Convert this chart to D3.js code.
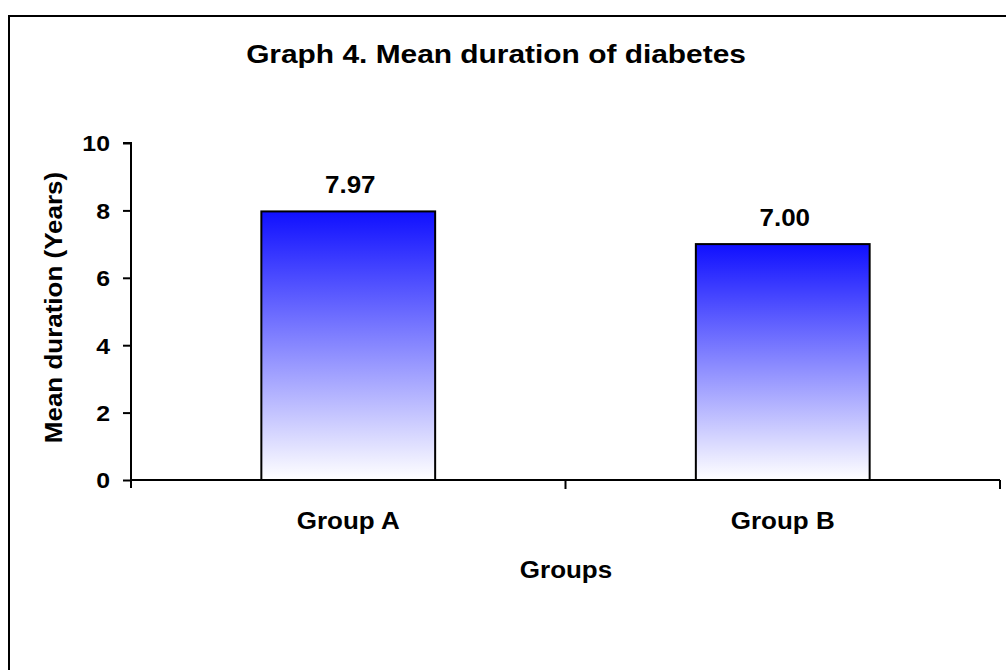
<!DOCTYPE html>
<html>
<head>
<meta charset="utf-8">
<script src="https://cdn.jsdelivr.net/npm/d3@7"></script>
<style>
  body { margin: 0; background: #fff; }
  text { font-family: "Liberation Sans", Arial, sans-serif; font-weight: bold; fill: #000; }
</style>
</head>
<body>
<div id="chart"></div>
<script>
// chart data
const categories = ["Group A", "Group B"];
const meanYears = [7.97, 7.00];
const valueLabels = ["7.97", "7.00"];
const yTicks = [0, 2, 4, 6, 8, 10];

const width = 1006, height = 670;
const margin = {left: 131, right: 6, top: 143, bottom: 190};
const sx = 1.13; // the original lettering is a bit wider than Liberation

const svg = d3.select("#chart")
    .append("svg")
    .attr("width", width)
    .attr("height", height);

// gradient fill, blue at top fading to white
const grad = svg.append("defs").append("linearGradient")
    .attr("id", "barGrad")
    .attr("x1", 0).attr("y1", 0).attr("x2", 0).attr("y2", 1);
grad.append("stop").attr("offset", "0%").attr("stop-color", "#1010ff");
grad.append("stop").attr("offset", "100%").attr("stop-color", "#ffffff");

// outer frame (only left/top visible)
svg.append("rect")
    .attr("x", 9).attr("y", 16)
    .attr("width", 1100).attr("height", 800)
    .attr("fill", "none")
    .attr("stroke", "#000")
    .attr("stroke-width", 2);

function label(px, py, size, txt, extra) {
    return svg.append("text")
        .attr("transform", `translate(${px},${py}) ${extra || ""} scale(${sx},1)`)
        .attr("text-anchor", "middle")
        .style("font-size", size + "px")
        .text(txt);
}

const x = d3.scaleBand()
    .domain(categories)
    .range([margin.left, width - margin.right])
    .padding(0);

const y = d3.scaleLinear()
    .domain([0, 10])
    .range([height - margin.bottom, margin.top]);

// title
svg.append("text")
    .attr("transform", `translate(496,63) scale(1.15,1)`)
    .attr("text-anchor", "middle")
    .style("font-size", "26px")
    .text("Graph 4. Mean duration of diabetes");

// bars
const data = categories.map((c, i) => ({cat: c, v: meanYears[i], label: valueLabels[i]}));
const bw = x.bandwidth() * 0.4;

svg.selectAll("rect.bar")
    .data(data)
    .join("rect")
    .attr("class", "bar")
    .attr("x", d => x(d.cat) + x.bandwidth() / 2 - bw / 2)
    .attr("y", d => y(d.v))
    .attr("width", bw)
    .attr("height", d => y(0) - y(d.v))
    .attr("fill", "url(#barGrad)")
    .attr("stroke", "#000")
    .attr("stroke-width", 2);

data.forEach(d => label(x(d.cat) + x.bandwidth() / 2 + 2, y(d.v) - 18, 23, d.label));

// y axis
const yAxis = svg.append("g")
    .attr("transform", `translate(${margin.left},0)`)
    .call(d3.axisLeft(y).tickValues(yTicks).tickSize(8));
yAxis.select(".domain").attr("stroke-width", 2).attr("d", `M-8,${y(10)}H0V${y(0) + 8}`);
yAxis.selectAll(".tick line").attr("stroke-width", 2);
yAxis.selectAll(".tick text")
    .style("font-size", "22px")
    .attr("x", -21 / sx)
    .attr("dy", "0.36em")
    .attr("transform", `scale(${sx},1)`);

// x axis: labels at centres, tick marks between categories
const xAxis = svg.append("g")
    .attr("transform", `translate(0,${y(0)})`)
    .call(d3.axisBottom(x).tickSize(0).tickPadding(0));
xAxis.select(".domain").attr("stroke-width", 2).attr("d", `M${margin.left},0H${width - margin.right}`);
xAxis.selectAll(".tick text")
    .style("font-size", "23px")
    .attr("y", 49)
    .attr("dy", null)
    .attr("transform", `scale(${sx},1)`);

const edges = categories.map(c => x(c) + x.bandwidth());
xAxis.selectAll("line.edge")
    .data(edges)
    .join("line")
    .attr("class", "edge")
    .attr("x1", d => d).attr("x2", d => d)
    .attr("y1", 0).attr("y2", 9)
    .attr("stroke", "#000")
    .attr("stroke-width", 2);

// axis titles
label(566, 578, 23, "Groups");
label(62, (y(0) + y(10)) / 2 - 4, 23, "Mean duration (Years)", "rotate(-90)");
</script>
</body>
</html>
